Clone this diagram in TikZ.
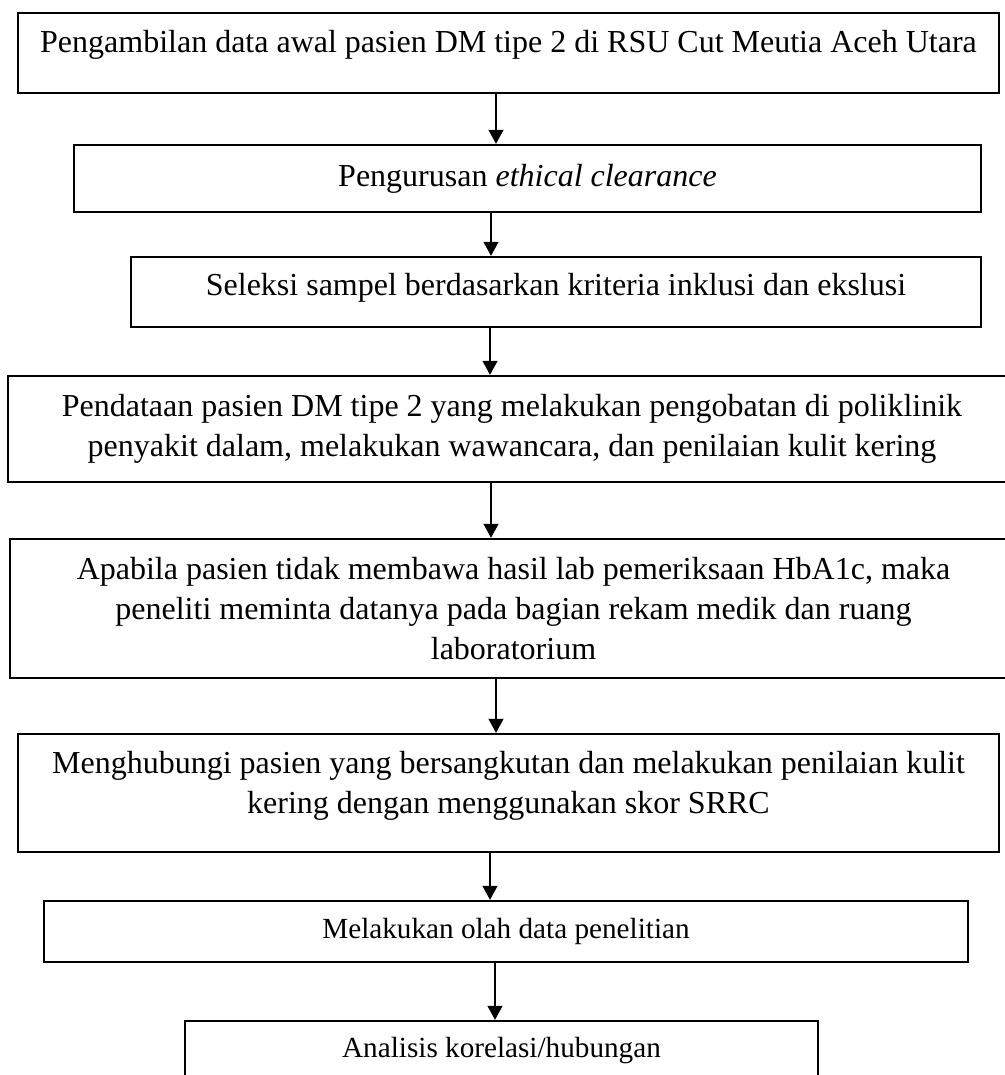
\documentclass[tikz,border=0pt]{standalone}
\usepackage{fontspec}
\setmainfont{Liberation Serif}
\usetikzlibrary{arrows.meta}

\begin{document}
\begin{tikzpicture}[
    x=1pt, y=-1pt,
    >={Triangle[width=15pt,length=14pt]},
    box/.style={draw, line width=2.4pt, rectangle, align=center, inner sep=0pt,
        font=\fontsize{32}{40}\selectfont},
    smallbox/.style={box, font=\fontsize{29.2}{35}\selectfont},
    arr/.style={->, line width=1.3pt},
]
\useasboundingbox (0,0) rectangle (1004,1075);
% the steps, top to bottom
\node[box, minimum width=981pt, minimum height=80pt, text depth=24pt] (ambil) at (508.5,53)
    {Pengambilan data awal pasien DM tipe 2 di RSU Cut Meutia Aceh Utara};
\node[box, minimum width=907pt, minimum height=67pt] (etik) at (527.5,178.5)
    {Pengurusan \textit{ethical clearance}};
\node[box, minimum width=850pt, minimum height=70pt, text depth=16pt] (seleksi) at (556,292)
    {Seleksi sampel berdasarkan kriteria inklusi dan ekslusi};
\node[box, minimum width=1008pt, minimum height=106pt] (data) at (512,429)
    {Pendataan pasien DM tipe 2 yang melakukan pengobatan di poliklinik\\
     penyakit dalam, melakukan wawancara, dan penilaian kulit kering};
\node[box, minimum width=1007pt, minimum height=139pt] (lab) at (513.5,608.5)
    {Apabila pasien tidak membawa hasil lab pemeriksaan HbA1c, maka\\
     peneliti meminta datanya pada bagian rekam medik dan ruang\\
     laboratorium};
\node[box, minimum width=981pt, minimum height=118pt, text depth=22pt] (hubungi) at (508.5,793)
    {Menghubungi pasien yang bersangkutan dan melakukan penilaian kulit\\
     kering dengan menggunakan skor SRRC};
\node[smallbox, minimum width=924pt, minimum height=61pt] (olah) at (506,931.5)
    {Melakukan olah data penelitian};
\node[smallbox, minimum width=633pt, minimum height=59pt] (analisis) at (501.5,1050.5)
    {Analisis korelasi/hubungan};
% connectors
\foreach \a/\b/\x in {ambil/etik/496, etik/seleksi/491, seleksi/data/490, data/lab/491,
    lab/hubungi/496, hubungi/olah/490, olah/analisis/495}
  \draw[arr] (\a.south -| \x,0) -- (\b.north -| \x,0);
\end{tikzpicture}
\end{document}
